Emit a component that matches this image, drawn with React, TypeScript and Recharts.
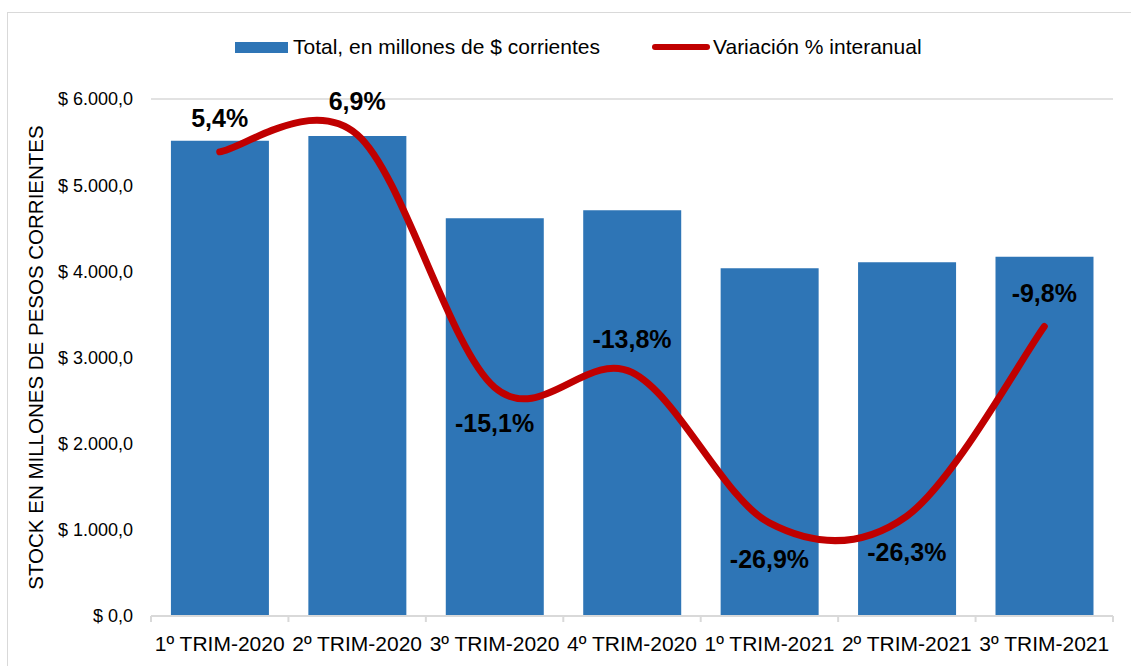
import React from 'react';
import { ComposedChart, Bar, Line, XAxis, YAxis, CartesianGrid, Legend, LabelList } from 'recharts';

const categories = ['1º TRIM-2020', '2º TRIM-2020', '3º TRIM-2020', '4º TRIM-2020', '1º TRIM-2021', '2º TRIM-2021', '3º TRIM-2021'];
const stockTotal = [5515, 5570, 4617, 4710, 4035, 4105, 4168];
const variacion = [5.4, 6.9, -15.1, -13.8, -26.9, -26.3, -9.8];
const yLabelTicks = [0, 1000, 2000, 3000, 4000, 5000, 6000];
const yGridTicks = [0, 200, 400, 600, 800, 1000, 1200, 1400, 1600, 1800, 2000, 2200, 2400, 2600, 2800, 3000, 3200, 3400, 3600, 3800, 4000, 4200, 4400, 4600, 4800, 5000, 5200, 5400, 5600, 5800, 6000];
const pctDomain = [-35, 10];
const labelSide = ['above', 'above', 'below', 'above', 'below', 'below', 'above'];

const data = categories.map((c, i) => ({ cat: c, total: stockTotal[i], pct: variacion[i] }));

const FONT = '"Liberation Sans", Arial, sans-serif';
const W = 1131;
const H = 666;
const PLOT_LEFT = 151;
const PLOT_RIGHT = 1113;
const BAND = (PLOT_RIGHT - PLOT_LEFT) / categories.length;
const LEGEND_H = 30;

const excelSmooth = (context: any) => {
  let pts: number[][] = [];
  return {
    areaStart() {},
    areaEnd() {},
    lineStart() {
      pts = [];
    },
    point(x: number, y: number) {
      pts.push([+x, +y]);
    },
    lineEnd() {
      const n = pts.length;
      if (!n) return;
      context.moveTo(pts[0][0], pts[0][1]);
      for (let i = 0; i < n - 1; i++) {
        const p0 = pts[i - 1] || pts[i];
        const p1 = pts[i];
        const p2 = pts[i + 1];
        const p3 = pts[i + 2] || pts[i + 1];
        context.bezierCurveTo(
          p1[0] + (p2[0] - p0[0]) / 6,
          p1[1] + (p2[1] - p0[1]) / 6,
          p2[0] - (p3[0] - p1[0]) / 6,
          p2[1] - (p3[1] - p1[1]) / 6,
          p2[0],
          p2[1]
        );
      }
    },
  };
};

const fmtMoney = (v: number) => {
  if (!yLabelTicks.includes(v)) return '';
  if (v === 0) return '$ 0,0';
  return `$ ${Math.floor(v / 1000)}.${String(v % 1000).padStart(3, '0')},0`;
};

const fmtPct = (v: number) => `${v.toFixed(1).replace('.', ',')}%`;

const XTick = (props: any) => {
  const { x, y, payload, index } = props;
  const left = x - BAND / 2;
  const right = x + BAND / 2;
  return (
    <g>
      <line x1={left} y1={y} x2={left} y2={y + 6} stroke="#d9d9d9" strokeWidth={2} />
      {index === categories.length - 1 && (
        <line x1={right} y1={y} x2={right} y2={y + 6} stroke="#d9d9d9" strokeWidth={2} />
      )}
      <text x={x} y={y + 27} textAnchor="middle" dominantBaseline="central" fontSize={21} fontFamily={FONT} fill="#000">
        {payload.value}
      </text>
    </g>
  );
};

const PctLabel = (props: any) => {
  const { x, y, value, index } = props;
  const dy = labelSide[index] === 'above' ? -33.5 : 36;
  return (
    <text x={x} y={y + dy} textAnchor="middle" dominantBaseline="central" fontSize={25} fontWeight="bold" fontFamily={FONT} fill="#000">
      {fmtPct(value)}
    </text>
  );
};

const LegendContent = (props: any) => {
  const { payload } = props;
  return (
    <div style={{ height: LEGEND_H, display: 'flex', alignItems: 'center', paddingLeft: 235, fontFamily: FONT, fontSize: 21, color: '#000' }}>
      {(payload || []).map((entry: any, i: number) => (
        <div key={i} style={{ display: 'flex', alignItems: 'center', marginRight: i === 0 ? 52 : 0 }}>
          {entry.type === 'line' ? (
            <svg width={58} height={12} style={{ marginRight: 3 }}>
              <line x1={3} y1={6} x2={55} y2={6} stroke={entry.color} strokeWidth={6} strokeLinecap="round" />
            </svg>
          ) : (
            <div style={{ width: 53, height: 11, background: entry.color, marginRight: 5 }} />
          )}
          <span style={{ whiteSpace: 'nowrap' }}>{entry.value}</span>
        </div>
      ))}
    </div>
  );
};

const YLabel = (props: any) => {
  const { viewBox } = props;
  const cy = viewBox.y + viewBox.height / 2;
  const cx = 35;
  return (
    <text x={cx} y={cy} transform={`rotate(-90, ${cx}, ${cy})`} textAnchor="middle" dominantBaseline="central" fontSize={20.5} fontFamily={FONT} fill="#000">
      STOCK EN MILLONES DE PESOS CORRIENTES
    </text>
  );
};

const GridLine = (p: any) => (
  <line
    key={p.key}
    x1={p.x1}
    y1={p.y1}
    x2={p.x2}
    y2={p.y2}
    stroke={p.index % 5 === 0 ? '#d9d9d9' : '#f0f0f0'}
    strokeWidth={1.5}
  />
);

export default function App() {
  return (
    <div style={{ position: 'fixed', left: 0, top: 0, width: W, height: H, overflow: 'hidden', background: '#fff' }}>
      <div style={{ position: 'absolute', left: 7, top: 12, width: 1300, height: 800, border: '1.5px solid #d9d9d9' }} />
      <ComposedChart
        width={W}
        height={H}
        data={data}
        margin={{ top: 99 - LEGEND_H, right: W - PLOT_RIGHT, bottom: 0, left: 0 }}
        barCategoryGap="14.5%"
        style={{ position: 'absolute', left: 0, top: 0 }}
      >
        <CartesianGrid vertical={false} horizontal={GridLine} />
        <XAxis
          dataKey="cat"
          height={50}
          interval={0}
          tick={<XTick />}
          tickLine={false}
          tickSize={0}
          tickMargin={0}
          axisLine={{ stroke: '#d9d9d9', strokeWidth: 2 }}
        />
        <YAxis
          yAxisId="left"
          width={PLOT_LEFT}
          domain={[0, 6000]}
          ticks={yGridTicks}
          interval={0}
          tickFormatter={fmtMoney}
          axisLine={false}
          tickLine={false}
          tickSize={0}
          tickMargin={18}
          tick={{ fontSize: 18, fontFamily: FONT, fill: '#000' }}
          label={<YLabel />}
        />
        <YAxis yAxisId="right" orientation="right" hide domain={pctDomain} />
        <Legend
          verticalAlign="top"
          align="left"
          content={<LegendContent />}
          wrapperStyle={{ top: 32, left: 0, width: W }}
        />
        <Bar yAxisId="left" dataKey="total" name="Total, en millones de $ corrientes" fill="#2E75B6" isAnimationActive={false} legendType="rect" />
        <Line
          yAxisId="right"
          dataKey="pct"
          name="Variación % interanual"
          type={excelSmooth as any}
          stroke="#C00000"
          strokeWidth={7}
          strokeLinecap="round"
          dot={false}
          activeDot={false}
          legendType="line"
          isAnimationActive={false}
        >
          <LabelList dataKey="pct" content={<PctLabel />} />
        </Line>
      </ComposedChart>
    </div>
  );
}
